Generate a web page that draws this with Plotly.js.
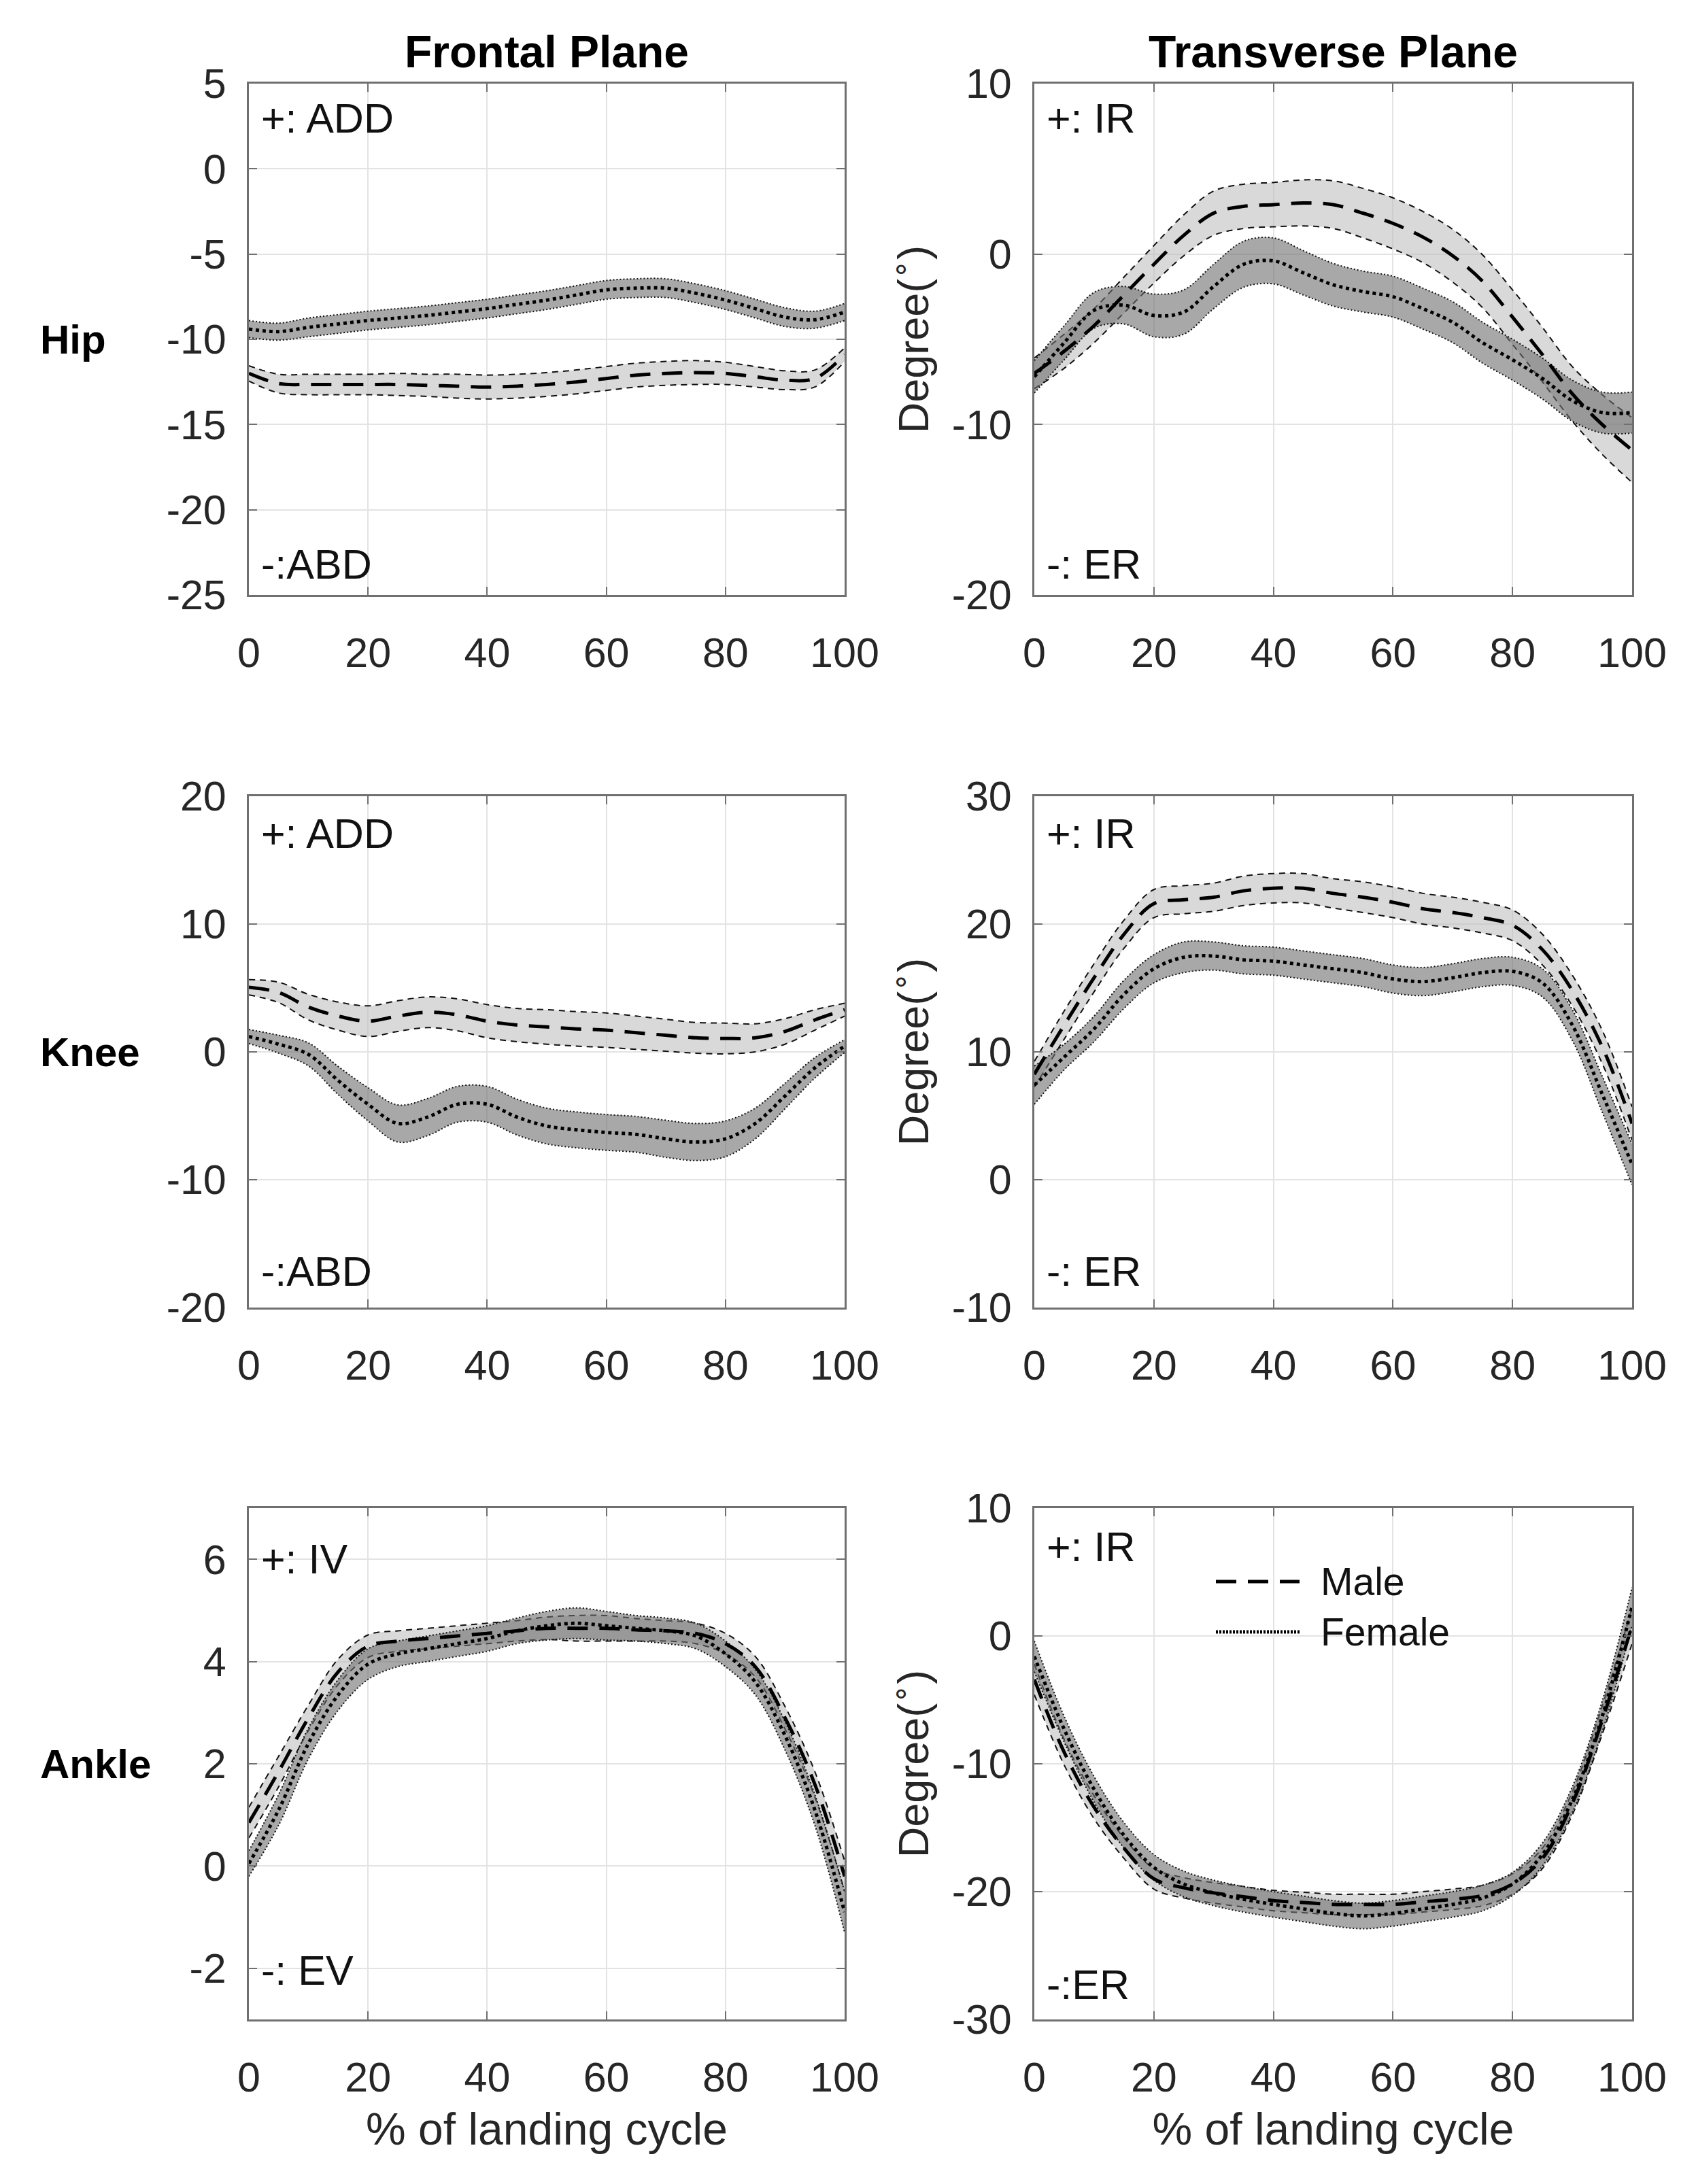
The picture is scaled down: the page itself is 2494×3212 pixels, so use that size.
<!DOCTYPE html>
<html>
<head>
<meta charset="utf-8">
<script src="https://cdn.plot.ly/plotly-3.0.1.min.js"></script>
<style>
  html, body { margin: 0; padding: 0; background: #fff; }
  #chart { width: 2494px; height: 3212px; }
</style>
</head>
<body>
<div id="chart"></div>
<script>
// % of landing cycle
const pct = [0, 5, 10, 15, 20, 25, 30, 35, 40, 45, 50, 55, 60, 65, 70, 75, 80, 85, 90, 95, 100];

// Hip - frontal plane
const hipFrontalMale     = [-12.0, -12.6, -12.65, -12.65, -12.65, -12.65, -12.7, -12.75, -12.8, -12.75, -12.65, -12.5, -12.3, -12.1, -12.0, -11.95, -12.0, -12.2, -12.4, -12.3, -10.9];
const hipFrontalMaleSd   = [0.45, 0.55, 0.6, 0.6, 0.6, 0.65, 0.65, 0.7, 0.7, 0.7, 0.7, 0.7, 0.7, 0.7, 0.7, 0.7, 0.65, 0.6, 0.55, 0.5, 0.4];
const hipFrontalFemale   = [-9.4, -9.55, -9.3, -9.1, -8.9, -8.75, -8.6, -8.4, -8.2, -7.95, -7.7, -7.4, -7.1, -7.0, -7.0, -7.3, -7.7, -8.2, -8.7, -8.85, -8.4];
const hipFrontalFemaleSd = [0.5, 0.5, 0.55, 0.55, 0.55, 0.55, 0.55, 0.55, 0.55, 0.55, 0.55, 0.55, 0.55, 0.55, 0.55, 0.55, 0.55, 0.55, 0.55, 0.5, 0.5];

// Hip - transverse plane
const hipTransMale     = [-7.0, -5.7, -4.2, -2.4, -0.6, 1.1, 2.4, 2.8, 2.9, 3.0, 2.9, 2.4, 1.8, 1.0, -0.1, -1.6, -3.7, -5.9, -8.2, -10.0, -11.5];
const hipTransMaleSd   = [0.9, 1.0, 1.0, 1.05, 1.1, 1.2, 1.3, 1.3, 1.3, 1.35, 1.4, 1.45, 1.5, 1.5, 1.55, 1.55, 1.6, 1.6, 1.6, 1.75, 1.9];
const hipTransFemale   = [-7.2, -5.2, -3.3, -3.0, -3.6, -3.4, -1.9, -0.6, -0.4, -1.1, -1.8, -2.2, -2.5, -3.2, -4.0, -5.2, -6.2, -7.3, -8.6, -9.3, -9.3];
const hipTransFemaleSd = [0.95, 1.0, 1.05, 1.1, 1.25, 1.3, 1.3, 1.35, 1.35, 1.3, 1.25, 1.2, 1.2, 1.2, 1.2, 1.2, 1.2, 1.2, 1.2, 1.2, 1.2];

// Knee - frontal plane
const kneeFrontalMale     = [5.05, 4.65, 3.5, 2.8, 2.4, 2.8, 3.1, 2.9, 2.4, 2.1, 1.95, 1.8, 1.7, 1.5, 1.3, 1.1, 1.05, 1.1, 1.6, 2.5, 3.3];
const kneeFrontalMaleSd   = [0.6, 0.8, 1.0, 1.1, 1.2, 1.2, 1.2, 1.25, 1.3, 1.3, 1.35, 1.35, 1.35, 1.3, 1.25, 1.2, 1.2, 1.1, 1.0, 0.8, 0.5];
const kneeFrontalFemale   = [1.2, 0.6, -0.2, -2.25, -4.1, -5.6, -5.1, -4.1, -4.1, -5.1, -5.8, -6.1, -6.3, -6.45, -6.8, -7.05, -6.8, -5.6, -3.45, -1.25, 0.45];
const kneeFrontalFemaleSd = [0.55, 0.7, 0.9, 1.1, 1.3, 1.45, 1.45, 1.4, 1.4, 1.4, 1.4, 1.4, 1.4, 1.4, 1.45, 1.45, 1.4, 1.2, 1.0, 0.8, 0.5];

// Knee - transverse plane
const kneeTransMale     = [8.25, 12.1, 15.8, 19.2, 21.6, 21.9, 22.1, 22.6, 22.8, 22.8, 22.4, 22.1, 21.7, 21.2, 20.9, 20.5, 19.9, 18.0, 14.8, 10.4, 4.4];
const kneeTransMaleSd   = [1.0, 1.1, 1.1, 1.1, 1.1, 1.1, 1.1, 1.15, 1.15, 1.15, 1.15, 1.2, 1.2, 1.2, 1.2, 1.2, 1.2, 1.2, 1.2, 1.3, 1.3];
const kneeTransFemale   = [7.4, 9.6, 11.8, 14.5, 16.5, 17.4, 17.5, 17.2, 17.1, 16.8, 16.5, 16.2, 15.7, 15.5, 15.8, 16.2, 16.3, 15.4, 12.1, 6.7, 1.2];
const kneeTransFemaleSd = [1.5, 1.0, 1.0, 1.1, 1.1, 1.2, 1.1, 1.1, 1.1, 1.1, 1.1, 1.1, 1.1, 1.1, 1.1, 1.1, 1.1, 1.1, 1.2, 1.4, 1.6];

// Ankle - frontal plane
const ankleFrontalMale     = [0.85, 1.85, 2.9, 3.8, 4.3, 4.4, 4.45, 4.5, 4.55, 4.6, 4.65, 4.65, 4.65, 4.62, 4.6, 4.55, 4.35, 3.9, 2.9, 1.6, -0.2];
const ankleFrontalMaleSd   = [0.3, 0.3, 0.25, 0.25, 0.22, 0.2, 0.2, 0.2, 0.2, 0.2, 0.22, 0.25, 0.25, 0.22, 0.2, 0.2, 0.2, 0.2, 0.22, 0.25, 0.3];
const ankleFrontalFemale   = [0.05, 1.1, 2.4, 3.35, 3.95, 4.15, 4.25, 4.35, 4.45, 4.6, 4.7, 4.75, 4.7, 4.65, 4.6, 4.5, 4.15, 3.6, 2.55, 1.1, -0.9];
const ankleFrontalFemaleSd = [0.25, 0.3, 0.3, 0.3, 0.3, 0.25, 0.25, 0.25, 0.25, 0.25, 0.28, 0.3, 0.28, 0.25, 0.25, 0.25, 0.25, 0.25, 0.28, 0.3, 0.4];

// Ankle - transverse plane
const ankleTransMale     = [-3.4, -9.1, -13.4, -16.6, -19.0, -19.7, -20.1, -20.4, -20.7, -20.85, -21.0, -21.0, -21.0, -20.8, -20.6, -20.3, -19.4, -17.4, -13.1, -6.6, 0.8];
const ankleTransMaleSd   = [1.2, 1.0, 0.9, 0.8, 0.8, 0.8, 0.8, 0.8, 0.8, 0.8, 0.8, 0.8, 0.8, 0.8, 0.8, 0.8, 0.8, 0.8, 0.9, 1.1, 1.4];
const ankleTransFemale   = [-1.6, -7.3, -12.0, -15.6, -18.1, -19.4, -20.1, -20.6, -21.0, -21.35, -21.7, -21.9, -21.7, -21.35, -21.0, -20.5, -19.4, -17.1, -12.8, -6.3, 2.3];
const ankleTransFemaleSd = [1.2, 1.0, 1.0, 1.0, 1.0, 1.0, 1.0, 1.0, 1.0, 1.0, 1.0, 1.0, 1.0, 1.0, 1.0, 1.0, 0.9, 0.9, 1.0, 1.2, 1.5];

const panels = [
  { male: hipFrontalMale, maleSd: hipFrontalMaleSd, female: hipFrontalFemale, femaleSd: hipFrontalFemaleSd },
  { male: hipTransMale, maleSd: hipTransMaleSd, female: hipTransFemale, femaleSd: hipTransFemaleSd },
  { male: kneeFrontalMale, maleSd: kneeFrontalMaleSd, female: kneeFrontalFemale, femaleSd: kneeFrontalFemaleSd },
  { male: kneeTransMale, maleSd: kneeTransMaleSd, female: kneeTransFemale, femaleSd: kneeTransFemaleSd },
  { male: ankleFrontalMale, maleSd: ankleFrontalMaleSd, female: ankleFrontalFemale, femaleSd: ankleFrontalFemaleSd },
  { male: ankleTransMale, maleSd: ankleTransMaleSd, female: ankleTransFemale, femaleSd: ankleTransFemaleSd }
];

const xTicks = [0, 20, 40, 60, 80, 100];
const yRanges = [[-25, 5], [-20, 10], [-20, 20], [-10, 30], [-3, 7], [-30, 10]];
const yTicks = [
  [-25, -20, -15, -10, -5, 0, 5],
  [-20, -10, 0, 10],
  [-20, -10, 0, 10, 20],
  [-10, 0, 10, 20, 30],
  [-2, 0, 2, 4, 6],
  [-30, -20, -10, 0, 10]
];
const plusLabels  = ['+: ADD', '+: IR', '+: ADD', '+: IR', '+: IV', '+: IR'];
const minusLabels = ['-:ABD', '-: ER', '-:ABD', '-: ER', '-: EV', '-:ER'];
const rowLabels = ['Hip', 'Knee', 'Ankle'];
const colTitles = ['Frontal Plane', 'Transverse Plane'];

// --- styles ---
const FONT = '"Liberation Sans", Arial, Helvetica, sans-serif';
const maleFill = 'rgba(190,190,190,0.58)';
const femaleFill = 'rgba(110,110,110,0.6)';
const maleDash = '30px,17px';
const femaleDot = '5px,5px';

// plot areas in page pixels
const W = 2494, H = 3212;
const colX = [[366, 1242], [1521, 2400]];
const rowY = [[123, 875], [1171, 1923], [2218, 2970]];
const plusY = [0.932, 0.932, 0.927, 0.927, 0.9, 0.924];
const minusY = [0.06, 0.06, 0.07, 0.07, 0.096, 0.068];

const traces = [];
const layout = {
  width: W, height: H,
  margin: { l: 0, r: 0, t: 0, b: 0 },
  paper_bgcolor: '#fff', plot_bgcolor: '#fff',
  font: { family: FONT, size: 60, color: '#262626' },
  showlegend: false,
  annotations: [],
  shapes: []
};

panels.forEach((p, i) => {
  const n = i === 0 ? '' : String(i + 1);
  const xa = 'x' + n, ya = 'y' + n;
  const col = i % 2, row = Math.floor(i / 2);
  const maleUp = p.male.map((v, k) => v + p.maleSd[k]);
  const maleLo = p.male.map((v, k) => v - p.maleSd[k]);
  const femUp = p.female.map((v, k) => v + p.femaleSd[k]);
  const femLo = p.female.map((v, k) => v - p.femaleSd[k]);
  const base = { x: pct, xaxis: xa, yaxis: ya, mode: 'lines', hoverinfo: 'skip' };

  traces.push(Object.assign({}, base, { y: maleUp, line: { color: '#111', width: 2, dash: '9px,7px', shape: 'spline' } }));
  traces.push(Object.assign({}, base, { y: maleLo, fill: 'tonexty', fillcolor: maleFill, line: { color: '#111', width: 2, dash: '9px,7px', shape: 'spline' } }));
  traces.push(Object.assign({}, base, { y: femUp, line: { color: '#111', width: 2, dash: '2px,3px', shape: 'spline' } }));
  traces.push(Object.assign({}, base, { y: femLo, fill: 'tonexty', fillcolor: femaleFill, line: { color: '#111', width: 2, dash: '2px,3px', shape: 'spline' } }));
  traces.push(Object.assign({}, base, { y: p.male, name: 'Male', line: { color: '#000', width: 5, dash: maleDash, shape: 'spline' } }));
  traces.push(Object.assign({}, base, { y: p.female, name: 'Female', line: { color: '#000', width: 5, dash: femaleDot, shape: 'spline' } }));

  const axCommon = {
    showline: true, linecolor: '#707070', linewidth: 3, mirror: 'ticks',
    ticks: 'inside', ticklen: 12, tickwidth: 2, tickcolor: '#707070',
    showgrid: true, gridcolor: '#e3e3e3', gridwidth: 2, zeroline: false,
    tickfont: { family: FONT, size: 61, color: '#262626' }
  };
  const xAxis = Object.assign({}, axCommon, {
    domain: [colX[col][0] / W, colX[col][1] / W],
    anchor: ya, range: [0, 100], tickvals: xTicks, ticktext: xTicks.map(String),
    ticklabelstandoff: 30
  });
  if (row === 2) xAxis.title = { text: '% of landing cycle', font: { family: FONT, size: 66, color: '#262626' }, standoff: 20 };
  const yAxis = Object.assign({}, axCommon, {
    domain: [1 - rowY[row][1] / H, 1 - rowY[row][0] / H],
    anchor: xa, range: yRanges[i], tickvals: yTicks[i], ticktext: yTicks[i].map(String),
    ticklabelstandoff: 18
  });
  if (col === 1) yAxis.title = { text: 'Degree(<sup>∘</sup>)', font: { family: FONT, size: 63, color: '#262626' }, standoff: 14 };
  layout['xaxis' + n] = xAxis;
  layout['yaxis' + n] = yAxis;

  const txt = { family: FONT, size: 61, color: '#111' };
  layout.annotations.push({ xref: xa + ' domain', yref: ya + ' domain', x: 0.018, y: plusY[i], xanchor: 'left', yanchor: 'middle', text: plusLabels[i], showarrow: false, font: txt });
  layout.annotations.push({ xref: xa + ' domain', yref: ya + ' domain', x: 0.018, y: minusY[i], xanchor: 'left', yanchor: 'middle', text: minusLabels[i], showarrow: false, font: txt });
});

rowLabels.forEach((t, r) => {
  layout.annotations.push({
    xref: 'paper', yref: 'paper', x: 57 / W, y: 1 - (rowY[r][0] + rowY[r][1]) / 2 / H,
    xanchor: 'left', yanchor: 'middle', text: '<b>' + t + '</b>', showarrow: false,
    font: { family: FONT, size: 60, color: '#000' }
  });
});
colTitles.forEach((t, c) => {
  layout.annotations.push({
    xref: 'paper', yref: 'paper', x: (colX[c][0] + colX[c][1]) / 2 / W, y: 1 - 76 / H,
    xanchor: 'center', yanchor: 'middle', text: '<b>' + t + '</b>', showarrow: false,
    font: { family: FONT, size: 66, color: '#000' }
  });
});

// legend (in the ankle transverse panel)
const legendItems = [
  { name: 'Male', dash: maleDash, y: 2326 },
  { name: 'Female', dash: '3px,2px', y: 2400 }
];
legendItems.forEach(it => {
  layout.shapes.push({
    type: 'line', xref: 'paper', yref: 'paper',
    x0: 1788 / W, x1: 1911 / W, y0: 1 - it.y / H, y1: 1 - it.y / H,
    line: { color: '#000', width: 5, dash: it.dash }
  });
  layout.annotations.push({
    xref: 'paper', yref: 'paper', x: 1940 / W, y: 1 - it.y / H,
    xanchor: 'left', yanchor: 'middle', text: it.name, showarrow: false,
    font: { family: FONT, size: 57, color: '#111' }
  });
});

Plotly.newPlot('chart', traces, layout, { staticPlot: true });
</script>
</body>
</html>
